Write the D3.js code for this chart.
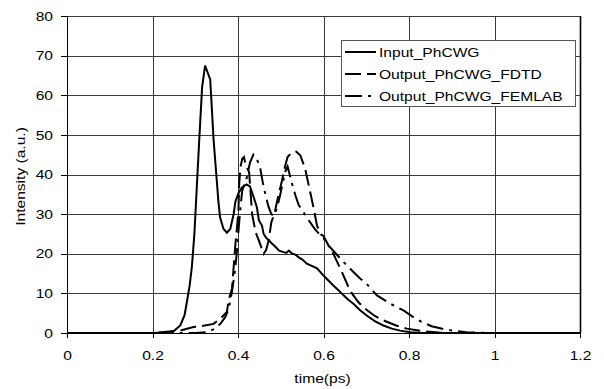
<!DOCTYPE html>
<html>
<head>
<meta charset="utf-8">
<script src="https://cdn.jsdelivr.net/npm/d3@7"></script>
<style>
  body { margin: 0; background: #fff; }
  text { font-family: "Liberation Sans", Arial, sans-serif; fill: #000; }
  .grid line { stroke: #3a3a3a; stroke-width: 1; shape-rendering: crispEdges; }
  .axis path, .axis line { stroke: #000; shape-rendering: crispEdges; }
</style>
</head>
<body>
<div id="chart"></div>
<script>
// tick values
var xTicks = [0, 0.2, 0.4, 0.6, 0.8, 1, 1.2];
var yTicks = [0, 10, 20, 30, 40, 50, 60, 70, 80];

// series names
var seriesNames = ["Input_PhCWG", "Output_PhCWG_FDTD", "Output_PhCWG_FEMLAB"];

// Input_PhCWG (time ps / intensity)
var inputT = [0, 0.2, 0.235, 0.25, 0.265, 0.275, 0.281, 0.287, 0.292, 0.298, 0.302, 0.309, 0.316, 0.323, 0.335, 0.343, 0.354, 0.358, 0.366, 0.374, 0.382, 0.39, 0.394, 0.402, 0.41, 0.42, 0.428, 0.436, 0.444, 0.449, 0.456, 0.46, 0.466, 0.472, 0.48, 0.488, 0.496, 0.507, 0.513, 0.519, 0.527, 0.534, 0.542, 0.55, 0.561, 0.575, 0.585, 0.6, 0.612, 0.623, 0.635, 0.647, 0.658, 0.67, 0.685, 0.701, 0.72, 0.74, 0.76, 0.779, 0.803, 0.83, 1.2];
var inputV = [0, 0, 0.1, 0.5, 1.9, 4.5, 8.2, 12, 16.6, 25, 33.4, 48, 62, 67.5, 64, 48.6, 33.4, 29.2, 26.3, 25.3, 26.3, 30.1, 33.2, 35.5, 36.8, 37.5, 37, 34.5, 31.8, 28.4, 27.1, 25, 24, 23.4, 22.5, 21.7, 20.8, 20.4, 20.2, 20.8, 20, 19.8, 19.1, 18.6, 17.5, 16.8, 16.3, 14.5, 13.2, 12, 10.8, 9.5, 8.4, 7.4, 5.8, 4.4, 3, 1.9, 1.1, 0.6, 0.2, 0, 0];

// Output_PhCWG_FDTD
var fdtdT = [0.06, 0.2, 0.265, 0.296, 0.312, 0.343, 0.362, 0.374, 0.378, 0.386, 0.394, 0.398, 0.401, 0.403, 0.406, 0.41, 0.414, 0.418, 0.426, 0.433, 0.441, 0.45, 0.46, 0.466, 0.472, 0.478, 0.485, 0.495, 0.503, 0.51, 0.516, 0.526, 0.536, 0.546, 0.557, 0.565, 0.575, 0.585, 0.595, 0.6, 0.612, 0.623, 0.643, 0.662, 0.68, 0.693, 0.72, 0.74, 0.77, 0.795, 0.834, 0.87, 0.9, 1.2];
var fdtdV = [0, 0, 0.6, 1.5, 1.7, 2.3, 4, 5.3, 8.2, 11.2, 22.5, 27, 31, 38, 42, 44, 44.4, 42.3, 40.6, 30, 25.5, 23, 20, 21, 23.5, 28, 30, 35, 38.5, 42, 44.4, 45.6, 45.8, 44.8, 41.5, 37.5, 32.5, 27, 24.8, 24.5, 22, 20, 15.4, 10.7, 8, 6.5, 4.3, 3.2, 1.9, 1.1, 0.4, 0.1, 0, 0];

// Output_PhCWG_FEMLAB
var femT = [0.06, 0.3, 0.327, 0.347, 0.36, 0.37, 0.378, 0.386, 0.392, 0.397, 0.402, 0.407, 0.41, 0.415, 0.42, 0.428, 0.436, 0.444, 0.452, 0.458, 0.464, 0.471, 0.478, 0.484, 0.491, 0.499, 0.505, 0.51, 0.516, 0.522, 0.528, 0.535, 0.542, 0.553, 0.565, 0.58, 0.59, 0.6, 0.608, 0.625, 0.647, 0.67, 0.685, 0.701, 0.725, 0.756, 0.787, 0.81, 0.83, 0.853, 0.888, 0.935, 0.97, 1.0, 1.2];
var femV = [0, 0, 0.2, 1.1, 2.5, 4, 6, 10.5, 15, 20, 27, 33, 36, 37.5, 39, 43, 45, 44, 41.5, 38, 35, 32, 30, 29.5, 31.5, 35, 38, 40.6, 42, 39.5, 37, 34.5, 32.3, 30.5, 28.5, 26.2, 25, 24, 22.5, 20.5, 17.9, 15.4, 13.8, 12.4, 9.5, 7.4, 5.7, 4, 2.8, 1.7, 0.8, 0.2, 0.05, 0, 0];

var margin = {top: 16, right: 24, bottom: 56, left: 67};
var width = 604 - margin.left - margin.right;
var height = 389 - margin.top - margin.bottom;
var sx = 1.2; // the original's text is stretched sideways

var x = d3.scaleLinear().domain([0, 1.2]).range([0, width]);
var y = d3.scaleLinear().domain([0, 80]).range([height, 0]);

var svg = d3.select("#chart").append("svg")
    .attr("width", 604)
    .attr("height", 389)
  .append("g")
    .attr("transform", "translate(" + margin.left + "," + margin.top + ")");

svg.append("defs").append("clipPath").attr("id", "plot")
  .append("rect").attr("width", width).attr("height", height);

// gridlines
var grid = svg.append("g").attr("class", "grid");
grid.selectAll(".h").data(yTicks).enter().append("line")
    .attr("x1", 0).attr("x2", width)
    .attr("y1", function(d) { return Math.round(y(d)) + 0.5; })
    .attr("y2", function(d) { return Math.round(y(d)) + 0.5; });
grid.selectAll(".v").data(xTicks).enter().append("line")
    .attr("y1", 0).attr("y2", height)
    .attr("x1", function(d) { return Math.round(x(d)) + 0.5; })
    .attr("x2", function(d) { return Math.round(x(d)) + 0.5; });

// right frame edge is a bit heavier
svg.append("line")
    .attr("x1", width + 0.5).attr("x2", width + 0.5)
    .attr("y1", 0).attr("y2", height)
    .attr("stroke", "#000").attr("stroke-width", 1.6);

// axes
var xAxis = svg.append("g")
    .attr("class", "axis")
    .attr("transform", "translate(0," + height + ")")
    .call(d3.axisBottom(x).tickValues(xTicks).tickFormat(d3.format("~g")).tickSizeOuter(0).tickSize(5).tickPadding(13));
xAxis.selectAll("text")
    .attr("font-size", 13)
    .attr("transform", "scale(" + sx + ",1)");

var yAxis = svg.append("g")
    .attr("class", "axis")
    .call(d3.axisLeft(y).tickValues(yTicks).tickSizeOuter(0).tickSize(6));
yAxis.selectAll("text")
    .attr("font-size", 13)
    .attr("x", -14 / sx)
    .attr("transform", "scale(" + sx + ",1)");

// series
var series = [
  {name: seriesNames[0], t: inputT, v: inputV, dash: null},
  {name: seriesNames[1], t: fdtdT, v: fdtdV, dash: "16,6"},
  {name: seriesNames[2], t: femT, v: femV, dash: "17,6,3,6"}
];

var line = d3.line()
    .x(function(d) { return x(d[0]); })
    .y(function(d) { return y(d[1]); });

var plot = svg.append("g").attr("clip-path", "url(#plot)");
series.slice().reverse().forEach(function(s) {
  plot.append("path")
      .datum(d3.zip(s.t, s.v))
      .attr("fill", "none")
      .attr("stroke", "#000")
      .attr("stroke-width", 2)
      .attr("stroke-dasharray", s.dash)
      .attr("d", line);
});

// legend
var legend = svg.append("g").attr("transform", "translate(" + (341 - margin.left) + "," + (40 - margin.top) + ")");
legend.append("rect")
    .attr("x", 0.5).attr("y", 0.5)
    .attr("width", 234).attr("height", 66)
    .attr("fill", "#fff").attr("stroke", "#555");
series.forEach(function(s, i) {
  var ly = 12 + i * 22;
  legend.append("line")
      .attr("x1", 4).attr("x2", 35)
      .attr("y1", ly).attr("y2", ly)
      .attr("stroke", "#000").attr("stroke-width", 2)
      .attr("stroke-dasharray", s.dash);
  legend.append("text")
      .attr("transform", "translate(38," + ly + ") scale(" + sx + ",1)")
      .attr("dy", "0.35em")
      .attr("font-size", 13)
      .text(s.name);
});

// axis titles
svg.append("text")
    .attr("transform", "translate(" + (x(0.6) - 1) + "," + (height + 50) + ") scale(" + sx + ",1)")
    .attr("text-anchor", "middle")
    .attr("font-size", 13)
    .text("time(ps)");

svg.append("text")
    .attr("transform", "translate(" + (-42) + "," + (height / 2 + 2) + ") rotate(-90) scale(" + sx + ",1)")
    .attr("text-anchor", "middle")
    .attr("font-size", 13)
    .text("Intensity (a.u.)");
</script>
</body>
</html>
